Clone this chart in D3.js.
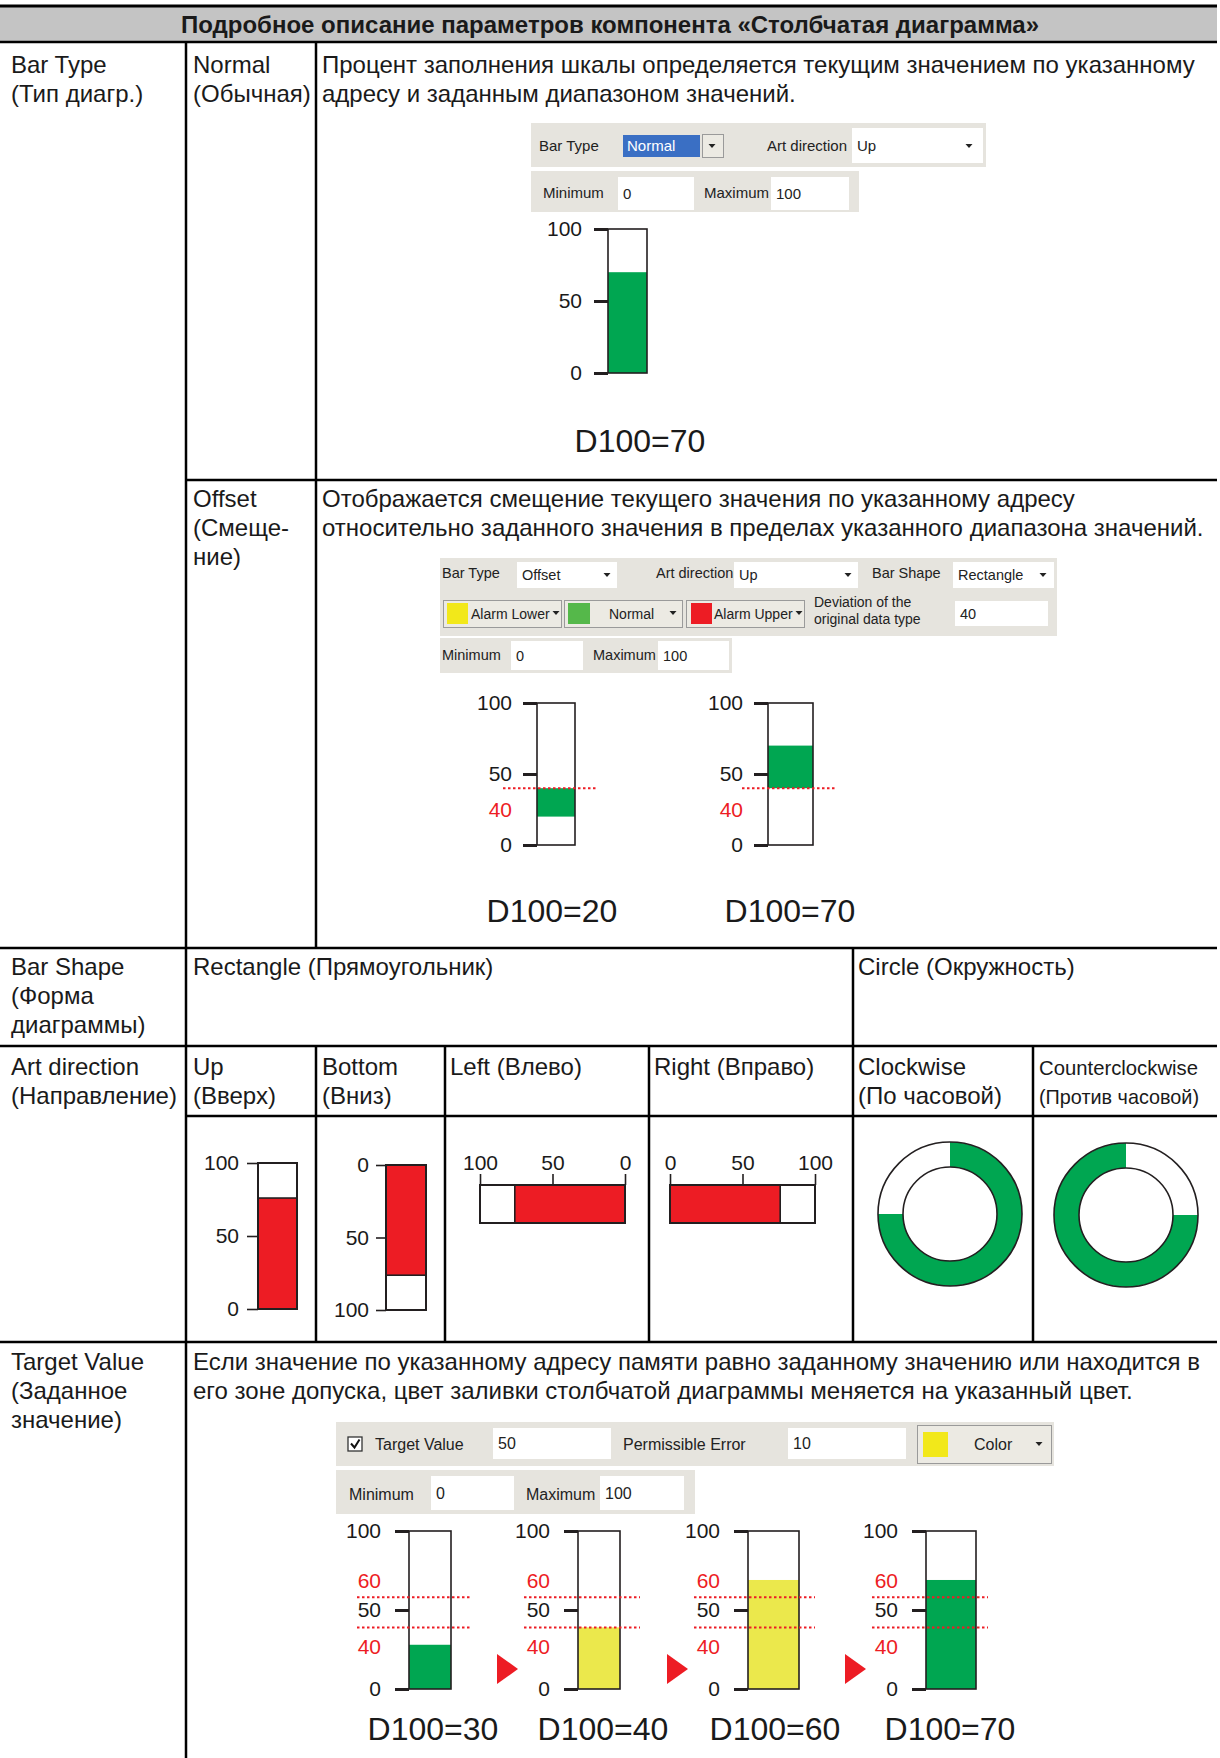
<!DOCTYPE html>
<html><head><meta charset="utf-8">
<script src="https://cdn.jsdelivr.net/npm/d3@7"></script>
<style>body{margin:0;background:#fff}svg{display:block}</style>
</head><body>
<svg id="c" width="1220" height="1758"></svg>
<script>
// ---------------- data ----------------
const axisTicks = [0, 50, 100];
const normalValue = 70;
const offsetDeviation = 40;
const offsetValues = [20, 70];
const offsetLabels = ["D100=20", "D100=70"];
const shapeValue = 76;
const circleValue = 75;
const targetValues = [30, 40, 60, 70];
const targetFills = [28, 39, 69, 69];        // fill heights as drawn
const targetBand = [39, 58];                   // dotted tolerance lines as drawn
const targetColors = ["green", "yellow", "yellow", "green"];
const targetBandLabels = ["60", "40"];

const C = {green:"#00a651", red:"#ed1c24", yellow:"#ebe84c", ink:"#231f20", guiBg:"#e6e4de"};
const FONT = '"Liberation Sans", Arial, Helvetica, sans-serif';
const BODY = 24;
const svg = d3.select("#c");

function T(x, y, s, o = {}) {
  const t = svg.append("text").attr("x", x).attr("y", y).text(s)
    .attr("font-family", FONT).attr("font-size", o.size || BODY)
    .attr("fill", o.fill || "#1a1a1a");
  if (o.anchor) t.attr("text-anchor", o.anchor);
  if (o.weight) t.attr("font-weight", o.weight);
  if (o.len) t.attr("textLength", o.len).attr("lengthAdjust", "spacingAndGlyphs");
  return t;
}
function L(x1, y1, x2, y2, w = 2.5) {
  svg.append("line").attr("x1", x1).attr("y1", y1).attr("x2", x2).attr("y2", y2)
    .attr("stroke", "#000").attr("stroke-width", w);
}

// ---------------- table ----------------
svg.append("rect").attr("x", 0).attr("y", 7).attr("width", 1217).attr("height", 34).attr("fill", "#c4c4c4");
L(0, 6, 1217, 6, 3);
L(0, 42, 1217, 42, 2.5);
T(610, 33, "Подробное описание параметров компонента «Столбчатая диаграмма»", {anchor: "middle", weight: "bold", size: 24});

L(186, 480, 1217, 480);
L(0, 948, 1217, 948);
L(0, 1046, 1217, 1046);
L(186, 1116, 1217, 1116);
L(0, 1342, 1217, 1342);
L(186, 42, 186, 1758);
L(316, 42, 316, 948);
L(316, 1046, 316, 1342);
L(445, 1046, 445, 1342);
L(649, 1046, 649, 1342);
L(853, 948, 853, 1342);
L(1033, 1046, 1033, 1342);

// column 1
T(11, 73, "Bar Type"); T(11, 102, "(Тип диагр.)");
T(11, 975, "Bar Shape"); T(11, 1004, "(Форма"); T(11, 1033, "диаграммы)");
T(11, 1075, "Art direction"); T(11, 1104, "(Направление)");
T(11, 1370, "Target Value"); T(11, 1399, "(Заданное"); T(11, 1428, "значение)");
// column 2
T(193, 73, "Normal"); T(193, 102, "(Обычная)");
T(193, 507, "Offset"); T(193, 536, "(Смеще-"); T(193, 565, "ние)");
// descriptions
T(322, 73, "Процент заполнения шкалы определяется текущим значением по указанному");
T(322, 102, "адресу и заданным диапазоном значений.");
T(322, 507, "Отображается смещение текущего значения по указанному адресу");
T(322, 536, "относительно заданного значения в пределах указанного диапазона значений.");
T(193, 975, "Rectangle (Прямоугольник)");
T(858, 975, "Circle (Окружность)");
T(193, 1075, "Up"); T(193, 1104, "(Вверх)");
T(322, 1075, "Bottom"); T(322, 1104, "(Вниз)");
T(450, 1075, "Left (Влево)");
T(654, 1075, "Right (Вправо)");
T(858, 1075, "Clockwise"); T(858, 1104, "(По часовой)");
T(1039, 1075, "Counterclockwise", {size: 21, len: 159}); T(1039, 1104, "(Против часовой)", {size: 21, len: 160});
T(193, 1370, "Если значение по указанному адресу памяти равно заданному значению или находится в");
T(193, 1399, "его зоне допуска, цвет заливки столбчатой диаграммы меняется на указанный цвет.");

// ---------------- GUI snippets ----------------
function panel(x, y, w, h) { svg.append("rect").attr("x", x).attr("y", y).attr("width", w).attr("height", h).attr("fill", C.guiBg); }
function field(x, y, w, h, s, size) {
  svg.append("rect").attr("x", x).attr("y", y).attr("width", w).attr("height", h).attr("fill", "#fff");
  if (s) T(x + 5, y + h / 2 + size * 0.35, s, {size, fill: "#222"});
}
function btn(x, y, w, h) {
  svg.append("rect").attr("x", x + .5).attr("y", y + .5).attr("width", w).attr("height", h)
    .attr("fill", "#eceae3").attr("stroke", "#9a9a9a").attr("stroke-width", 1);
}
function sw(x, y, w, h, c) { svg.append("rect").attr("x", x).attr("y", y).attr("width", w).attr("height", h).attr("fill", c); }
function arrow(cx, cy) {
  svg.append("path").attr("d", `M${cx - 3.5},${cy - 2}L${cx + 3.5},${cy - 2}L${cx},${cy + 2}Z`).attr("fill", "#222");
}
const g = (x, y, s, size) => T(x, y, s, {size, fill: "#222"});

// Normal
panel(531, 123, 455, 44); panel(531, 171, 328, 41);
g(539, 151, "Bar Type", 15);
svg.append("rect").attr("x", 623).attr("y", 135).attr("width", 77).attr("height", 22).attr("fill", "#3a6fc4");
T(627, 151, "Normal", {size: 15, fill: "#fff"});
btn(702, 134, 21, 23); arrow(712, 146);
g(767, 151, "Art direction", 15);
field(852, 128, 131, 35, "Up", 15); arrow(969, 146);
g(543, 198, "Minimum", 15); field(618, 177, 76, 33, "0", 15);
g(704, 198, "Maximum", 15); field(771, 177, 78, 33, "100", 15);

// Offset
panel(440, 558, 617, 78); panel(440, 638, 292, 35);
g(442, 578, "Bar Type", 14.5); field(517, 562, 100, 26, "Offset", 14.5); arrow(607, 575);
g(656, 578, "Art direction", 14.5); field(734, 562, 124, 26, "Up", 14.5); arrow(848, 575);
g(872, 578, "Bar Shape", 14.5); field(953, 562, 101, 26, "Rectangle", 14.5); arrow(1043, 575);
btn(443, 600, 118, 27); sw(447, 603, 21, 21, "#f2e81a"); g(471, 619, "Alarm Lower", 14); arrow(556, 613);
btn(564, 600, 118, 27); sw(568, 603, 22, 21, "#55b84a"); g(609, 619, "Normal", 14); arrow(673, 613);
btn(686, 600, 118, 27); sw(691, 603, 21, 21, C.red); g(714, 619, "Alarm Upper", 14); arrow(799, 613);
g(814, 607, "Deviation of the", 14); g(814, 624, "original data type", 14);
field(955, 601, 93, 25, "40", 14.5);
g(442, 660, "Minimum", 14.5); field(511, 641, 72, 29, "0", 14.5);
g(593, 660, "Maximum", 14.5); field(658, 641, 71, 29, "100", 14.5);

// Target
panel(336, 1422, 718, 44); panel(336, 1470, 359, 44);
svg.append("rect").attr("x", 348).attr("y", 1437).attr("width", 14).attr("height", 14).attr("fill", "#fff").attr("stroke", "#333").attr("stroke-width", 1.3);
svg.append("path").attr("d", "M351,1443.5L354.5,1447.5L359.5,1439.5").attr("fill", "none").attr("stroke", "#111").attr("stroke-width", 2);
g(375, 1450, "Target Value", 16); field(493, 1428, 118, 31, "50", 16);
g(623, 1450, "Permissible Error", 16); field(788, 1428, 118, 31, "10", 16);
btn(917, 1425, 134, 38); sw(923, 1432, 25, 25, "#f2e81a"); g(974, 1450, "Color", 16); arrow(1039, 1444);
g(349, 1500, "Minimum", 16); field(431, 1476, 83, 34, "0", 16);
g(526, 1500, "Maximum", 16); field(600, 1476, 84, 34, "100", 16);

// ---------------- charts ----------------
function leftAxis(y, xEdge, tickSize, pad, width, fsize) {
  const a = svg.append("g").attr("transform", `translate(${xEdge},0)`)
    .call(d3.axisLeft(y).tickValues(axisTicks).tickSize(tickSize).tickPadding(pad));
  a.select(".domain").remove();
  a.selectAll("line").attr("stroke", C.ink).attr("stroke-width", width);
  a.selectAll("text").attr("font-family", FONT).attr("font-size", fsize).attr("fill", "#1a1a1a");
  return a;
}
function outline(x, y, w, h, sw_) {
  svg.append("rect").attr("x", x).attr("y", y).attr("width", w).attr("height", h)
    .attr("fill", "none").attr("stroke", C.ink).attr("stroke-width", sw_ || 1.6);
}
function dotted(x1, x2, yy) {
  svg.append("line").attr("x1", x1).attr("x2", x2).attr("y1", yy).attr("y2", yy)
    .attr("stroke", C.red).attr("stroke-width", 2).attr("stroke-dasharray", "2.5,2.5");
}

// Normal chart
{
  const y = d3.scaleLinear().domain([0, 100]).range([373, 229]);
  const x0 = 608, x1 = 647;
  svg.append("rect").attr("x", x0).attr("y", y(normalValue)).attr("width", x1 - x0).attr("height", y(0) - y(normalValue)).attr("fill", C.green);
  outline(x0, y(100), x1 - x0, y(0) - y(100));
  leftAxis(y, x0, 14, 12, 3, 21);
  T(640, 452, "D100=" + normalValue, {size: 32, anchor: "middle"});
}

// Offset charts
{
  const y = d3.scaleLinear().domain([0, 100]).range([845, 703]);
  const bars = [{x0: 537, x1: 575, d0: 503, d1: 597, lx: 552}, {x0: 768, x1: 813, d0: 742, d1: 835, lx: 790}];
  offsetValues.forEach((v, i) => {
    const b = bars[i];
    const top = y(Math.max(v, offsetDeviation)), bot = y(Math.min(v, offsetDeviation));
    svg.append("rect").attr("x", b.x0).attr("y", top).attr("width", b.x1 - b.x0).attr("height", bot - top).attr("fill", C.green);
    outline(b.x0, y(100), b.x1 - b.x0, y(0) - y(100));
    leftAxis(y, b.x0, 14, 11, 3, 21);
    dotted(b.d0, b.d1, y(offsetDeviation));
    T(b.x0 - 25, y(offsetDeviation) + 29, String(offsetDeviation), {size: 21, anchor: "end", fill: C.red});
    T(b.lx, 922, offsetLabels[i], {size: 32, anchor: "middle"});
  });
}

// Bar shape / art direction: Up
{
  const y = d3.scaleLinear().domain([0, 100]).range([1309, 1163]);
  const x0 = 258, x1 = 297;
  svg.append("rect").attr("x", x0).attr("y", y(shapeValue)).attr("width", x1 - x0).attr("height", y(0) - y(shapeValue)).attr("fill", C.red).attr("stroke", C.ink).attr("stroke-width", 1.6);
  outline(x0, y(100), x1 - x0, y(0) - y(100), 2);
  leftAxis(y, x0, 11, 8, 1.6, 21);
}
// Bottom
{
  const y = d3.scaleLinear().domain([0, 100]).range([1165, 1310]);
  const x0 = 386, x1 = 426;
  svg.append("rect").attr("x", x0).attr("y", y(0)).attr("width", x1 - x0).attr("height", y(shapeValue) - y(0)).attr("fill", C.red).attr("stroke", C.ink).attr("stroke-width", 1.6);
  outline(x0, y(0), x1 - x0, y(100) - y(0), 2);
  leftAxis(y, x0, 10, 7, 1.6, 21);
}
// Left / Right
function hbar(domain, range) {
  const x = d3.scaleLinear().domain(domain).range(range);
  const y0 = 1185, y1 = 1223;
  const a = x(0), b = x(shapeValue);
  svg.append("rect").attr("x", Math.min(a, b)).attr("y", y0).attr("width", Math.abs(b - a)).attr("height", y1 - y0).attr("fill", C.red).attr("stroke", C.ink).attr("stroke-width", 1.6);
  outline(Math.min(x(0), x(100)), y0, Math.abs(x(100) - x(0)), y1 - y0, 2);
  const ax = svg.append("g").attr("transform", `translate(0,${y0})`)
    .call(d3.axisTop(x).tickValues(axisTicks).tickSize(11).tickPadding(4));
  ax.select(".domain").remove();
  ax.selectAll("line").attr("stroke", C.ink).attr("stroke-width", 1.6);
  ax.selectAll("text").attr("font-family", FONT).attr("font-size", 21).attr("fill", "#1a1a1a");
}
hbar([100, 0], [480, 625]);
hbar([0, 100], [670, 815]);

// Circles
function ring(cx, cy, dir) {
  const arc = d3.arc().innerRadius(47).outerRadius(72);
  const end = 2 * Math.PI * circleValue / 100 * dir;
  svg.append("path").attr("transform", `translate(${cx},${cy})`)
    .attr("d", arc({startAngle: Math.min(0, end), endAngle: Math.max(0, end)})).attr("fill", C.green);
  [72, 47].forEach(r => svg.append("circle").attr("cx", cx).attr("cy", cy).attr("r", r)
    .attr("fill", "none").attr("stroke", C.ink).attr("stroke-width", 1.6));
}
ring(950, 1214, 1);
ring(1126, 1215, -1);

// Target charts
{
  const y = d3.scaleLinear().domain([0, 100]).range([1689, 1531]);
  const bars = [
    {x0: 409, x1: 451, d0: 357, d1: 470, lx: 433, pad: 14},
    {x0: 578, x1: 620, d0: 524, d1: 640, lx: 603, pad: 14},
    {x0: 748, x1: 799, d0: 694, d1: 815, lx: 775, pad: 14},
    {x0: 926, x1: 976, d0: 872, d1: 988, lx: 950, pad: 14}];
  const tri = [[497, 518], [667, 688], [845, 866]];
  targetValues.forEach((v, i) => {
    const b = bars[i];
    const f = targetFills[i];
    svg.append("rect").attr("x", b.x0).attr("y", y(f)).attr("width", b.x1 - b.x0).attr("height", y(0) - y(f))
      .attr("fill", targetColors[i] === "green" ? C.green : C.yellow);
    outline(b.x0, y(100), b.x1 - b.x0, y(0) - y(100));
    leftAxis(y, b.x0, 14, b.pad, 3, 21);
    dotted(b.d0, b.d1, y(targetBand[1]));
    dotted(b.d0, b.d1, y(targetBand[0]));
    const lxr = b.x0 - 14 - b.pad;
    T(lxr, y(targetBand[1]) - 9, targetBandLabels[0], {size: 21, anchor: "end", fill: C.red});
    T(lxr, y(targetBand[0]) + 27, targetBandLabels[1], {size: 21, anchor: "end", fill: C.red});
    T(b.lx, 1740, "D100=" + v, {size: 32, anchor: "middle"});
    if (i < tri.length) {
      const [a, c] = tri[i];
      svg.append("path").attr("d", `M${a},1654L${c},1669L${a},1684Z`).attr("fill", C.red);
    }
  });
}
</script>
</body></html>
